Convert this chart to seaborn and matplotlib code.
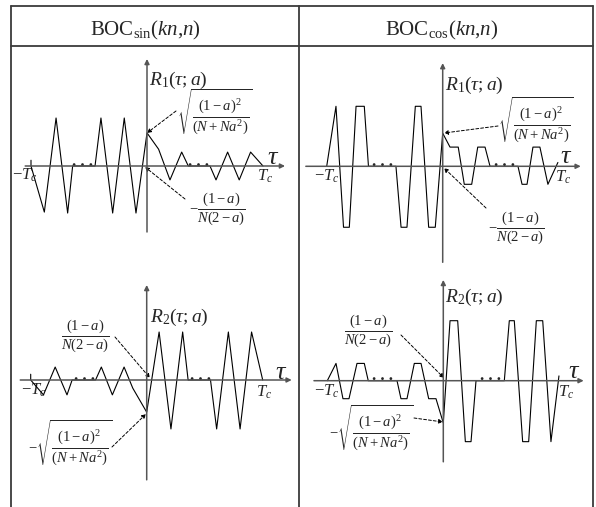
import matplotlib
matplotlib.use('Agg')
import matplotlib.pyplot as plt
import seaborn as sns

# vertices of the four correlation sketches
# tau in units of Tc, amplitude normalised to the BOCsin main peak
sin_r1_tau = [-1.0, -1.0, -0.885, -0.784, -0.684, -0.641, -0.448, -0.397, -0.296, -0.196, -0.095,
              0.0, 0.1, 0.198, 0.299, 0.356, 0.543, 0.595, 0.695, 0.795, 0.893, 1.0]
sin_r1_amp = [0.12, 0.0, -0.96, 1.0, -0.98, 0.0, 0.0, 1.0, -0.98, 1.0, -0.98,
              0.69, 0.35, -0.29, 0.29, 0.0, 0.0, -0.29, 0.29, -0.29, 0.29, 0.0]

cos_r1_tau = [-1.0, -0.92, -0.855, -0.805, -0.747, -0.676, -0.64,
              -0.403, -0.359, -0.308, -0.236, -0.187, -0.121, -0.064, 0.0,
              0.063, 0.134, 0.186, 0.25, 0.302, 0.365, 0.408,
              0.649, 0.684, 0.727, 0.778, 0.838, 0.907, 0.993]
cos_r1_amp = [0.0, 1.25, -1.27, -1.27, 1.25, 1.25, 0.0,
              0.0, -1.27, -1.27, 1.25, 1.25, -1.27, -1.27, 0.69,
              0.4, 0.4, -0.375, -0.375, 0.4, 0.4, 0.0,
              0.0, -0.375, -0.375, 0.4, 0.4, -0.375, 0.08]

sin_r2_tau = [-1.0, -1.0, -0.89, -0.789, -0.687, -0.643, -0.441, -0.391, -0.296, -0.195, -0.12,
              0.0, 0.107, 0.209, 0.31, 0.357, 0.55, 0.603, 0.704, 0.805, 0.904, 1.0]
sin_r2_amp = [0.12, 0.0, -0.31, 0.27, -0.31, 0.0, 0.0, 0.27, -0.31, 0.27, -0.17,
              -0.67, 1.0, -1.02, 1.0, 0.0, 0.0, -1.02, 1.0, -1.02, 1.0, 0.0]

cos_r2_tau = [-1.0, -0.925, -0.865, -0.813, -0.744, -0.681, -0.647,
              -0.399, -0.365, -0.313, -0.25, -0.192, -0.126, -0.063, 0.0,
              0.058, 0.124, 0.19, 0.239, 0.282,
              0.526, 0.569, 0.612, 0.684, 0.736, 0.802, 0.857, 0.928, 0.997]
cos_r2_amp = [0.0, 0.36, -0.375, -0.375, 0.36, 0.36, 0.0,
              0.0, -0.375, -0.375, 0.36, 0.36, -0.375, -0.375, -0.88,
              1.25, 1.25, -1.27, -1.27, 0.0,
              0.0, 1.25, 1.25, -1.27, -1.27, 1.25, 1.25, -1.27, 0.1]

headers = [r'$\mathrm{BOC}_{\mathrm{sin}}(kn{,}n)$', r'$\mathrm{BOC}_{\mathrm{cos}}(kn{,}n)$']
r_labels = [r'$R_1(\tau{;}a)$', r'$R_1(\tau{;}a)$', r'$R_2(\tau{;}a)$', r'$R_2(\tau{;}a)$']
sqrt_lbl = r'$\sqrt{\dfrac{(1-a)^2}{(N+Na^2)}}$'
frac_lbl = r'$\dfrac{(1-a)}{N(2-a)}$'

sns.set_theme(style='white')
plt.rcParams['font.family'] = ['Liberation Serif', 'DejaVu Serif']
plt.rcParams['mathtext.fontset'] = 'custom'
plt.rcParams['mathtext.rm'] = 'Liberation Serif'
plt.rcParams['mathtext.it'] = 'Liberation Serif:italic'
plt.rcParams['mathtext.bf'] = 'Liberation Serif:bold'

W, H = 596, 507
TC_PX, AMP_PX = 116, 48

fig = plt.figure(figsize=(W / 100, H / 100), dpi=100)
base = fig.add_axes([0, 0, 1, 1])
base.set_xlim(0, W)
base.set_ylim(H, 0)
base.axis('off')

# table frame
grid = dict(color='#3a3a3a', lw=1.3)
base.plot([11, 593], [6, 6], **grid)
base.plot([11, 593], [46, 46], **grid)
for xv in [11, 298.5, 592.5]:
    base.plot([xv, xv], [6, H], **grid)

base.text(145, 35, headers[0], fontsize=15, ha='center', va='baseline')
base.text(442, 35, headers[1], fontsize=15, ha='center', va='baseline')

panels = [
    dict(tau=sin_r1_tau, amp=sin_r1_amp, origin=(147, 166), xr=(-1.05, 1.19), yr=(-1.375, 2.23),
         lab=(149, 85), taupos=(267, 164), mtc=(12, 180), tc=(257, 181),
         dots=[(82, 166), (199, 166)]),
    dict(tau=cos_r1_tau, amp=cos_r1_amp, origin=(442.7, 166.3), xr=(-1.18, 1.19), yr=(-2.0, 2.15),
         lab=(445, 90), taupos=(560, 163), mtc=(314, 181), tc=(555, 182),
         dots=[(382.7, 166), (504.5, 166)]),
    dict(tau=sin_r2_tau, amp=sin_r2_amp, origin=(146.7, 380), xr=(-1.09, 1.25), yr=(-2.08, 1.98),
         lab=(150, 322), taupos=(275, 379), mtc=(21, 395), tc=(256, 397),
         dots=[(85, 380), (200, 380)]),
    dict(tau=cos_r2_tau, amp=cos_r2_amp, origin=(443.3, 380.7), xr=(-1.115, 1.21), yr=(-1.69, 2.1),
         lab=(445, 302), taupos=(568, 378), mtc=(314, 396), tc=(558, 397),
         dots=[(382.5, 380), (491, 380)]),
]

axis_arrow = dict(arrowstyle='-|>', color='#555555', lw=1.1, mutation_scale=7, shrinkA=0, shrinkB=0)

for i, p in enumerate(panels):
    ax = fig.add_axes([0, 0, 1, 1])
    x0, y0 = p['origin']
    ax.annotate('', xy=(p['xr'][1], 0), xytext=(p['xr'][0], 0), arrowprops=axis_arrow)
    ax.annotate('', xy=(0, p['yr'][1]), xytext=(0, p['yr'][0]), arrowprops=axis_arrow)
    sns.lineplot(x=p['tau'], y=p['amp'], sort=False, estimator=None, color='black', lw=0.8, ax=ax)
    ax.set_xlim(-x0 / TC_PX, (W - x0) / TC_PX)
    ax.set_ylim((y0 - H) / AMP_PX, y0 / AMP_PX)
    ax.axis('off')

    base.text(p['lab'][0], p['lab'][1], r_labels[i], fontsize=14, ha='left', va='baseline')
    base.text(p['taupos'][0], p['taupos'][1], r'$\tau$', fontsize=19, ha='left', va='baseline')
    base.text(p['mtc'][0], p['mtc'][1], r'$-T_c$', fontsize=12, ha='left', va='baseline')
    base.text(p['tc'][0], p['tc'][1], r'$T_c$', fontsize=12, ha='left', va='baseline')
    for dx, dy in p['dots']:
        base.text(dx, dy - 0.5, '. . .', fontsize=12, fontweight='bold', ha='center', va='baseline')

# value labels with dashed pointers
dash = dict(arrowstyle='-|>', color='black', lw=0.7, ls=(0, (3, 2)), mutation_scale=6, shrinkA=0, shrinkB=0)
notes = [
    (sqrt_lbl, (215, 112), (176, 111), (147, 133)),
    ('$-$' + frac_lbl, (217, 209), (185, 199), (145, 167)),
    (sqrt_lbl, (536, 120), (498, 126), (444, 133)),
    ('$-$' + frac_lbl, (516, 228), (486, 208), (444, 168)),
    (frac_lbl, (85, 336), (115, 337), (150, 378)),
    ('$-$' + sqrt_lbl, (70, 443), (112, 447), (146, 414)),
    (frac_lbl, (368, 331), (401, 335), (444, 378)),
    ('$-$' + sqrt_lbl, (371, 428), (414, 418), (443, 422)),
]
for txt, pos, start, end in notes:
    base.text(pos[0], pos[1], txt, fontsize=10.5, ha='center', va='center')
    base.annotate('', xy=end, xytext=start, arrowprops=dash)

fig.savefig('out.png', dpi=100)
